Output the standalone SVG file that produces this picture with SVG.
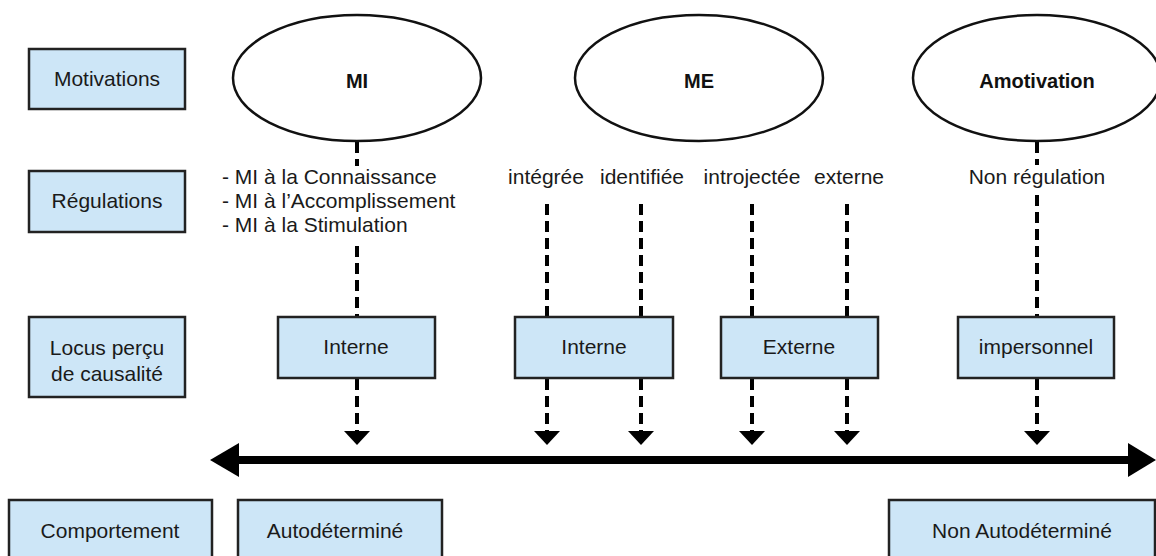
<svg xmlns="http://www.w3.org/2000/svg" width="1156" height="556" viewBox="0 0 1156 556">
<style>
.box{fill:#cde6f7;stroke:#222;stroke-width:2.5}
.ell{fill:#fff;stroke:#111;stroke-width:2.5}
.t{font-family:"Liberation Sans",Arial,sans-serif;font-size:21px;fill:#1a1a1a;text-anchor:middle}
.tl{font-family:"Liberation Sans",Arial,sans-serif;font-size:21px;fill:#1a1a1a;text-anchor:start}
.b{font-family:"Liberation Sans",Arial,sans-serif;font-size:20px;font-weight:bold;fill:#111;text-anchor:middle}
.dash{stroke:#000;stroke-width:4;stroke-dasharray:11 6;fill:none}
.head{fill:#000}
</style>
<rect width="1156" height="556" fill="#fff"/>
<g id="connectors">
  <path class="dash" d="M357 142V166M357 246V317M357 379V432"/>
  <path class="dash" d="M547 204V317M547 379V432"/>
  <path class="dash" d="M641 204V317M641 379V432"/>
  <path class="dash" d="M752 204V317M752 379V432"/>
  <path class="dash" d="M847 204V317M847 379V432"/>
  <path class="dash" d="M1037 142V165M1037 195V317M1037 379V432"/>
  <polygon class="head" points="344,431 370,431 357,445"/>
  <polygon class="head" points="534,431 560,431 547,445"/>
  <polygon class="head" points="628,431 654,431 641,445"/>
  <polygon class="head" points="739,431 765,431 752,445"/>
  <polygon class="head" points="834,431 860,431 847,445"/>
  <polygon class="head" points="1024,431 1050,431 1037,445"/>
  <line x1="236" y1="460" x2="1130" y2="460" stroke="#000" stroke-width="8"/>
  <polygon class="head" points="210,460 239,443 239,477"/>
  <polygon class="head" points="1156,460 1128,443 1128,477"/>
</g>
<g id="label-motivations"><rect class="box" x="29" y="49" width="156" height="60"/><text class="t" x="107" y="86">Motivations</text></g>
<g id="label-regulations"><rect class="box" x="29" y="171" width="156" height="61"/><text class="t" x="107" y="208">Régulations</text></g>
<g id="label-locus"><rect class="box" x="29" y="317" width="156" height="80"/><text class="t" x="107" y="355">Locus perçu</text><text class="t" x="107" y="381">de causalité</text></g>
<g id="label-comportement"><rect class="box" x="9" y="500" width="203" height="70"/><text class="t" x="110" y="538">Comportement</text></g>
<g id="mi"><ellipse class="ell" cx="357" cy="78" rx="124" ry="63"/><text class="b" x="357" y="88">MI</text></g>
<g id="me"><ellipse class="ell" cx="699" cy="78" rx="124" ry="63"/><text class="b" x="699" y="88">ME</text></g>
<g id="amotivation"><ellipse class="ell" cx="1037" cy="78" rx="124" ry="63"/><text class="b" x="1037" y="88">Amotivation</text></g>
<g id="reg-mi"><text class="tl" x="222" y="184">- MI à la Connaissance</text><text class="tl" x="222" y="208">- MI à l’Accomplissement</text><text class="tl" x="222" y="232">- MI à la Stimulation</text></g>
<g id="reg-integree"><text class="t" x="546" y="184">intégrée</text></g>
<g id="reg-identifiee"><text class="t" x="642" y="184">identifiée</text></g>
<g id="reg-introjectee"><text class="t" x="752" y="184">introjectée</text></g>
<g id="reg-externe"><text class="t" x="849" y="184">externe</text></g>
<g id="reg-non"><text class="t" x="1037" y="184">Non régulation</text></g>
<g id="locus-interne1"><rect class="box" x="278" y="317" width="157" height="61"/><text class="t" x="356" y="354">Interne</text></g>
<g id="locus-interne2"><rect class="box" x="515" y="317" width="158" height="61"/><text class="t" x="594" y="354">Interne</text></g>
<g id="locus-externe"><rect class="box" x="721" y="317" width="157" height="61"/><text class="t" x="799" y="354">Externe</text></g>
<g id="locus-impersonnel"><rect class="box" x="958" y="317" width="156" height="61"/><text class="t" x="1036" y="354">impersonnel</text></g>
<g id="autodetermine"><rect class="box" x="238" y="500" width="204" height="70"/><text class="t" x="335" y="538">Autodéterminé</text></g>
<g id="non-autodetermine"><rect class="box" x="889" y="500" width="266" height="70"/><text class="t" x="1022" y="538">Non Autodéterminé</text></g>
</svg>
